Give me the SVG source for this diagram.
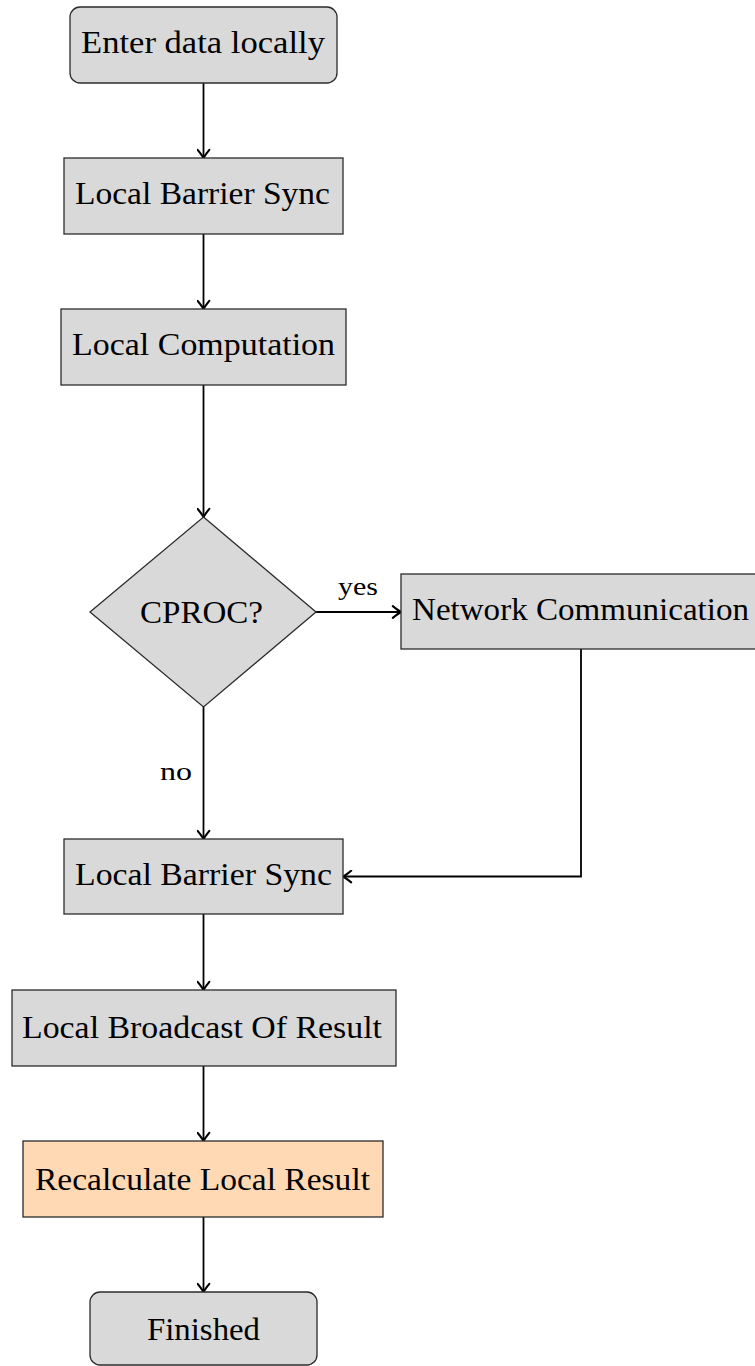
<svg xmlns="http://www.w3.org/2000/svg" width="755" height="1366" viewBox="0 0 755 1366">
  <style>
    .box { fill: #d9d9d9; stroke: #2b2b2b; stroke-width: 1.3; }
    .hot { fill: #ffd9b3; stroke: #2b2b2b; stroke-width: 1.3; }
    .lbl { font-size: 32px; fill: #000000; text-anchor: middle; }
    .edge { fill: none; stroke: #000000; stroke-width: 1.8; }
    .tag { font-size: 26px; fill: #000000; text-anchor: middle; }
  </style>
  <defs>
    <marker id="tip" markerUnits="userSpaceOnUse" markerWidth="14" markerHeight="14" viewBox="-8 -6 10 12" refX="0" refY="0" orient="auto">
      <path d="M-7,-5 Q-2.5,-1.3 0,0 Q-2.5,1.3 -7,5" fill="none" stroke="#000000" stroke-width="1.8" stroke-linecap="round"/>
    </marker>
  </defs>

  <rect x="0" y="0" width="755" height="1366" fill="#ffffff"/>

  <g id="connectors" font-family="'Liberation Serif', 'Times New Roman', serif">
    <path class="edge" d="M203.5,83 V158" marker-end="url(#tip)"/>
    <path class="edge" d="M203.5,234 V309" marker-end="url(#tip)"/>
    <path class="edge" d="M203.5,385 V517" marker-end="url(#tip)"/>
    <path class="edge" d="M316,612 H401" marker-end="url(#tip)"/>
    <path class="edge" d="M203.5,707 V839" marker-end="url(#tip)"/>
    <path class="edge" d="M581,649 V876.5 H343" marker-end="url(#tip)"/>
    <path class="edge" d="M203.5,914 V990" marker-end="url(#tip)"/>
    <path class="edge" d="M203.5,1066 V1141" marker-end="url(#tip)"/>
    <path class="edge" d="M203.5,1217 V1292" marker-end="url(#tip)"/>
    <text class="tag" x="358" y="595" textLength="40" lengthAdjust="spacingAndGlyphs">yes</text>
    <text class="tag" x="176" y="780" textLength="32" lengthAdjust="spacingAndGlyphs">no</text>
  </g>

  <g id="nodes" font-family="'Liberation Serif', 'Times New Roman', serif">
    <g id="start">
      <rect class="box" x="70" y="7" width="267" height="76" rx="10"/>
      <text class="lbl" x="203" y="53" textLength="244" lengthAdjust="spacingAndGlyphs">Enter data locally</text>
    </g>

    <g id="barrier1">
      <rect class="box" x="64" y="158" width="279" height="76"/>
      <text class="lbl" x="202.5" y="204" textLength="255" lengthAdjust="spacingAndGlyphs">Local Barrier Sync</text>
    </g>

    <g id="compute">
      <rect class="box" x="61" y="309" width="285" height="76"/>
      <text class="lbl" x="203.5" y="355" textLength="263" lengthAdjust="spacingAndGlyphs">Local Computation</text>
    </g>

    <g id="decision">
      <polygon class="box" points="203.5,517 316,612 203.5,707 90,612"/>
      <text class="lbl" x="201.5" y="623" textLength="123" lengthAdjust="spacingAndGlyphs">CPROC?</text>
    </g>

    <g id="network">
      <rect class="box" x="401" y="574" width="360" height="75"/>
      <text class="lbl" x="580.5" y="620" textLength="337" lengthAdjust="spacingAndGlyphs">Network Communication</text>
    </g>

    <g id="barrier2">
      <rect class="box" x="64" y="839" width="279" height="75"/>
      <text class="lbl" x="203.5" y="885" textLength="257" lengthAdjust="spacingAndGlyphs">Local Barrier Sync</text>
    </g>

    <g id="broadcast">
      <rect class="box" x="12" y="990" width="384" height="76"/>
      <text class="lbl" x="202" y="1038" textLength="360" lengthAdjust="spacingAndGlyphs">Local Broadcast Of Result</text>
    </g>

    <g id="recalc">
      <rect class="hot" x="23" y="1141" width="360" height="76"/>
      <text class="lbl" x="202.5" y="1190" textLength="335" lengthAdjust="spacingAndGlyphs">Recalculate Local Result</text>
    </g>

    <g id="finish">
      <rect class="box" x="90" y="1292" width="227" height="73" rx="10"/>
      <text class="lbl" x="203.5" y="1340" textLength="113" lengthAdjust="spacingAndGlyphs">Finished</text>
    </g>
  </g>
</svg>
